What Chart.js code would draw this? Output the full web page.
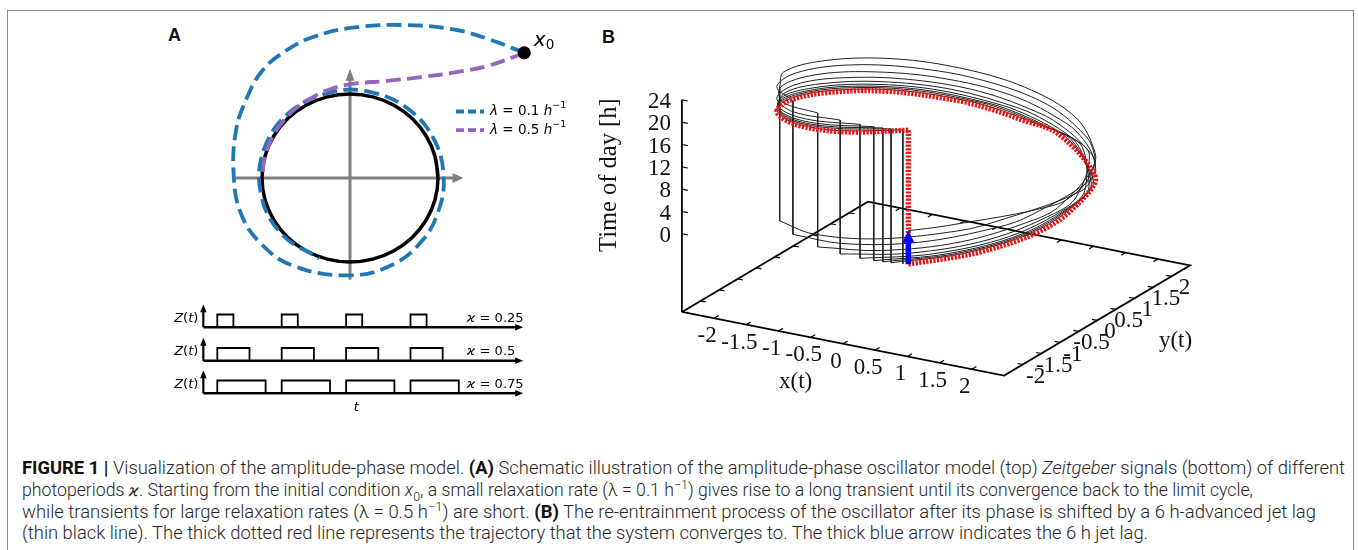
<!DOCTYPE html>
<html>
<head>
<meta charset="utf-8">
<title>Figure 1 – amplitude-phase model</title>
<script src="https://cdn.jsdelivr.net/npm/chart.js@4.4.1/dist/chart.umd.min.js"></script>
<style>
html, body { margin:0; padding:0; background:#ffffff; }
#page { position:relative; width:1358px; height:550px; overflow:hidden; background:#fff; }
#frame { position:absolute; left:7px; top:10px; width:1347px; height:620px; border:1.5px solid #8c8c8c; box-sizing:border-box; }
canvas { position:absolute; }
.panel { position:absolute; font-family:"Liberation Sans", Arial, sans-serif; font-weight:bold; font-size:18px; line-height:18px; color:#111; }
.cap { position:absolute; left:22px; white-space:nowrap; font-family:Roboto, "Liberation Sans", Arial, sans-serif; font-weight:300; font-size:17.5px; line-height:20px; color:#262626; transform-origin:0 50%; }
.cap b { color:#111; font-weight:700; }
.cap sub, .cap sup { font-size:70%; line-height:0; }
.cap .kap { font-family:"DejaVu Sans", sans-serif; font-weight:normal; font-size:15px; }
</style>
</head>
<body>
<div id="page">
  <div id="frame"></div>
  <div class="panel" style="left:168px; top:26px;">A</div>
  <div class="panel" style="left:602px; top:28px;">B</div>
  <canvas id="chartA"></canvas>
  <canvas id="chartZ0"></canvas>
  <canvas id="chartZ1"></canvas>
  <canvas id="chartZ2"></canvas>
  <canvas id="chartB"></canvas>
  <div class="cap" id="cap0" style="top:458px;"><b>FIGURE 1 |</b> Visualization of the amplitude-phase model. <b>(A)</b> Schematic illustration of the amplitude-phase oscillator model (top) <i>Zeitgeber</i> signals (bottom) of different</div>
  <div class="cap" id="cap1" style="top:479.5px;">photoperiods <i class="kap">ϰ</i>. Starting from the initial condition <i>x</i><sub>0</sub>, a small relaxation rate (λ = 0.1 h<sup>−1</sup>) gives rise to a long transient until its convergence back to the limit cycle,</div>
  <div class="cap" id="cap2" style="top:501.5px;">while transients for large relaxation rates (λ = 0.5 h<sup>−1</sup>) are short. <b>(B)</b> The re-entrainment process of the oscillator after its phase is shifted by a 6 h-advanced jet lag</div>
  <div class="cap" id="cap3" style="top:523px;">(thin black line). The thick dotted red line represents the trajectory that the system converges to. The thick blue arrow indicates the 6 h jet lag.</div>
</div>
<script>
// =====================================================================
// DATA
// =====================================================================
// ---- Panel A (top): limit cycle and two transients, polar form (deg, radius / limit-cycle amplitude)
const limitCycleAngle = [0,15,30,45,60,75,90,105,120,135,150,165,180,195,210,225,240,255,270,285,300,315,330,345,360,375];
const limitCycleRadius = 1;
const initialCondition = [1.98, 1.49];
const slowTransientAngle  = [36.9,46,56,71.5,89,104,116,128,141,157,180,199,217,238,270,295,317,338,360,385,410,435,460,490,520,550,580,610];
const slowTransientRadius = [2.48,2.29,2.13,1.92,1.79,1.73,1.68,1.62,1.51,1.41,1.32,1.31,1.28,1.23,1.16,1.14,1.11,1.08,1.065,1.06,1.055,1.05,1.045,1.04,1.035,1.03,1.025,1.02];
const fastTransientAngle  = [36.9,40.3,46.6,56,70,88.5,102,115,128,140,152,165,180];
const fastTransientRadius = [2.48,2.07,1.73,1.45,1.23,1.12,1.08,1.05,1.03,1.015,1.005,1.0,1.0];
const legendRates = ['0.1', '0.5'];

// ---- Panel A (bottom): Zeitgeber signals
const photoperiods = [0.25, 0.5, 0.75];
const cycleOnsets  = [0, 1, 2, 3];

// ---- Panel B: phase (deg) of the oscillator at each time of day, day by day after the jet lag
const todGrid        = [0,2,4,6,7,7.5,8,9,10,12,14,16,18,20,22,24];
const phaseEntrained = [-70,-43,-15,13,26,70,87,100,112,137,163,188,212,238,264,290];
const phaseDay0 = [null,null,null,-70,-56.2,-11.8,5.6,19.3,32.1,58.7,86.2,112.8,138.3,165.9,193.4,221];
const phaseDay1 = [-139,-110.8,-81.5,-52.3,-38.6,5.7,23,36.6,49.3,75.5,102.8,129,154.3,181.5,208.8,236];
const phaseDay2 = [-124,-95.7,-66.3,-37,-23.3,21,38.3,52,64.7,91,118.3,144.7,170,197.3,224.7,252];
const phaseDay3 = [-108,-80.1,-51.2,-22.3,-8.8,35.4,52.7,66.1,78.6,104.5,131.4,157.3,182.3,209.2,236.1,263];
const phaseDay4 = [-97,-69.3,-40.6,-11.9,1.5,45.7,62.8,76.2,88.5,114.3,141,166.7,191.4,218.1,244.8,271.5];
const phaseDay5 = [-88.5,-61,-32.6,-4.1,9.1,53.2,70.3,83.6,95.8,121.3,147.7,173.2,197.6,224.1,250.5,277];
const phaseDay6 = [-83,-55.7,-27.4,0.9,14,58.1,75.2,88.3,100.5,125.8,152,177.3,201.6,227.9,254.2,280.5];
const phaseDay7 = [-79.5,-52.2,-24,4.3,17.4,61.5,78.5,91.7,103.8,129.1,155.3,180.6,204.8,231.1,257.3,283.6];
const phaseDay8 = [-76.4,-49,-20.7,7.7,20.9,65,82.1,95.3,107.4,132.8,159.2,184.5,208.9,235.3,261.6,288];
const cycleAmplitude = 2.14;
const jetLagHours = 6;
const xTicks = [-2,-1.5,-1,-0.5,0,0.5,1,1.5,2];
const yTicks = [-2,-1.5,-1,-0.5,0,0.5,1,1.5,2];
const zTicks = [0,4,8,12,16,20,24];
const xyRange = [-2.5, 2.5];
const zRange  = [-14, 24];

// =====================================================================
// HELPERS
// =====================================================================
const DEG = Math.PI / 180;
const GAP = {x: NaN, y: NaN};

function placeCanvas(id, rect) {
  const cv = document.getElementById(id);
  cv.width = rect[2]; cv.height = rect[3];
  cv.style.left = rect[0] + 'px'; cv.style.top = rect[1] + 'px';
  cv.style.width = rect[2] + 'px'; cv.style.height = rect[3] + 'px';
  return cv;
}
function stacked(list) { const n = list.length; list.forEach((d, i) => { d.order = n - i; }); return list; }
function lineDs(data, color, width, extra) {
  return Object.assign({ data, showLine: true, borderColor: color, borderWidth: width, pointRadius: 0,
    pointHoverRadius: 0, tension: 0, fill: false, clip: false, spanGaps: false, borderCapStyle: 'butt' }, extra || {});
}
function buildChart(id, rect, origin, kx, ky, datasets, plugin) {
  const cv = placeCanvas(id, rect);
  return new Chart(cv.getContext('2d'), {
    type: 'scatter',
    data: { datasets },
    options: {
      responsive: false, maintainAspectRatio: false, animation: false, devicePixelRatio: 1, events: [],
      layout: { padding: 0, autoPadding: false },
      plugins: { legend: { display: false }, tooltip: { enabled: false }, title: { display: false } },
      scales: {
        x: { type: 'linear', display: false, bounds: 'data', min: (rect[0] - origin[0]) / kx, max: (rect[0] + rect[2] - origin[0]) / kx },
        y: { type: 'linear', display: false, bounds: 'data', min: (origin[1] - rect[1] - rect[3]) / ky, max: (origin[1] - rect[1]) / ky }
      }
    },
    plugins: plugin ? [plugin] : []
  });
}
function pix(chart, x, y) { return { x: chart.scales.x.getPixelForValue(x), y: chart.scales.y.getPixelForValue(y) }; }
function arrowHead(ctx, tip, dir, len, half, color) {
  const bx = tip.x - dir[0] * len, by = tip.y - dir[1] * len;
  ctx.save(); ctx.fillStyle = color; ctx.beginPath();
  ctx.moveTo(tip.x, tip.y);
  ctx.lineTo(bx - dir[1] * half, by + dir[0] * half);
  ctx.lineTo(bx + dir[1] * half, by - dir[0] * half);
  ctx.closePath(); ctx.fill(); ctx.restore();
}
function drawRich(ctx, parts, x, y, align) {
  let w = 0;
  parts.forEach(p => { ctx.font = p.f; w += ctx.measureText(p.t).width; });
  let cx = align === 'right' ? x - w : (align === 'center' ? x - w / 2 : x);
  ctx.save(); ctx.textBaseline = 'middle'; ctx.textAlign = 'left';
  parts.forEach(p => { ctx.font = p.f; ctx.fillStyle = p.c || '#000'; ctx.fillText(p.t, cx, y + (p.dy || 0)); cx += ctx.measureText(p.t).width; });
  ctx.restore();
}
function polar(angles, radii) {
  return angles.map((a, i) => { const r = Array.isArray(radii) ? radii[i] : radii; return { x: r * Math.cos(a * DEG), y: r * Math.sin(a * DEG) }; });
}
const MATH = '"DejaVu Sans"';

// =====================================================================
// PANEL A (top) – phase portrait
// =====================================================================
const rectA = [140, 5, 440, 290], originA = [350, 178], kxA = 88, kyA = 84;
const axisA = { left: -1.30, right: 1.29, bottom: -1.21, top: 1.30 };
const dsA = stacked([
  lineDs([{x: axisA.left, y: 0}, {x: axisA.right - 6 / kxA, y: 0}], '#808080', 3),
  lineDs([{x: 0, y: axisA.bottom}, {x: 0, y: axisA.top - 6 / kyA}], '#808080', 3),
  lineDs(polar(limitCycleAngle, limitCycleRadius), '#000000', 3.5, { tension: 0.4 }),
  lineDs(polar(slowTransientAngle, slowTransientRadius), '#1f77b4', 3.8, { tension: 0.4, borderDash: [14.8, 6.4] }),
  lineDs(polar(fastTransientAngle, fastTransientRadius), '#9467bd', 3.8, { tension: 0.4, borderDash: [14.8, 6.4] }),
  { data: [{x: initialCondition[0], y: initialCondition[1]}], showLine: false, pointRadius: 6.6, pointBackgroundColor: '#000',
    pointBorderColor: '#000', pointBorderWidth: 0, pointHoverRadius: 0, clip: false }
]);
const pluginA = {
  id: 'panelA',
  afterDatasetsDraw(chart) {
    const ctx = chart.ctx;
    arrowHead(ctx, pix(chart, axisA.right, 0), [1, 0], 11, 5, '#808080');
    arrowHead(ctx, pix(chart, 0, axisA.top), [0, -1], 12, 4.5, '#808080');
    // x0 label
    const p0 = pix(chart, initialCondition[0], initialCondition[1]);
    drawRich(ctx, [{t: 'x', f: 'italic 20px ' + MATH}], p0.x + 9.5, p0.y - 12, 'left');
    drawRich(ctx, [{t: '0', f: '13.5px ' + MATH}], p0.x + 21.5, p0.y - 7.5, 'left');
    // legend
    const colors = ['#1f77b4', '#9467bd'];
    legendRates.forEach((rate, i) => {
      const y = 111.5 + i * 18.6 - rectA[1];
      const x0 = 456 - rectA[0];
      ctx.save(); ctx.strokeStyle = colors[i]; ctx.lineWidth = 3.8; ctx.setLineDash([8, 4]); ctx.lineCap = 'butt';
      ctx.beginPath(); ctx.moveTo(x0, y); ctx.lineTo(x0 + 28, y); ctx.stroke(); ctx.restore();
      drawRich(ctx, [
        {t: 'λ', f: 'italic 13.5px ' + MATH},
        {t: ' = ' + rate + ' ', f: '13.5px ' + MATH},
        {t: 'h', f: 'italic 13.5px ' + MATH},
        {t: '−1', f: '9.5px ' + MATH, dy: -5.5}
      ], x0 + 34, y, 'left');
    });
  }
};
buildChart('chartA', rectA, originA, kxA, kyA, dsA, pluginA);

// =====================================================================
// PANEL A (bottom) – Zeitgeber signals
// =====================================================================
const zBaselines = [327.3, 360.8, 393.3];
const zAxis = { tStart: -0.217, tEnd: 4.75, top: 1.8 };
photoperiods.forEach((kappa, r) => {
  const base = zBaselines[r];
  const rect = [160, Math.round(base) - 30, 380, 56];
  const origin = [217.3, base], kx = 64.4, ky = 12.8;
  const pulses = [];
  cycleOnsets.forEach(s => { pulses.push({x: s, y: 0}, {x: s, y: 1}, {x: s + kappa, y: 1}, {x: s + kappa, y: 0}, GAP); });
  const ds = stacked([
    lineDs([{x: zAxis.tStart, y: 0}, {x: zAxis.tEnd - 5 / kx, y: 0}], '#000', 2.4),
    lineDs([{x: zAxis.tStart, y: 0}, {x: zAxis.tStart, y: zAxis.top - 5 / ky}], '#000', 2.2),
    lineDs(pulses, '#000', 1.8)
  ]);
  const plug = {
    id: 'zeit' + r,
    afterDatasetsDraw(chart) {
      const ctx = chart.ctx;
      arrowHead(ctx, pix(chart, zAxis.tEnd, 0), [1, 0], 8, 3.2, '#000');
      arrowHead(ctx, pix(chart, zAxis.tStart, zAxis.top), [0, -1], 8, 3.2, '#000');
      const pa = pix(chart, zAxis.tStart, 0);
      drawRich(ctx, [
        {t: 'Z', f: 'italic 13px ' + MATH}, {t: '(', f: '13px ' + MATH},
        {t: 't', f: 'italic 13px ' + MATH}, {t: ')', f: '13px ' + MATH}
      ], pa.x - 5, pa.y - 9, 'right');
      drawRich(ctx, [
        {t: 'ϰ', f: 'italic 13px ' + MATH}, {t: ' = ' + kappa, f: '13px ' + MATH}
      ], pa.x + 263.5, pa.y - 9, 'left');
      if (r === photoperiods.length - 1) {
        drawRich(ctx, [{t: 't', f: 'italic 13px ' + MATH}], pix(chart, 2.16, 0).x, pa.y + 14.5, 'center');
      }
    }
  };
  buildChart('chartZ' + r, rect, origin, kx, ky, ds, plug);
});

// =====================================================================
// PANEL B – re-entrainment in (x, y, time of day) space
// =====================================================================
const VIEW = { rotX: 70, rotZ: 30, unit: 74.4, hour: 5.58 };
function project(x, y, z) {
  const rz = VIEW.rotZ * DEG, rx = VIEW.rotX * DEG;
  return { x: VIEW.unit * (x * Math.cos(rz) + y * Math.sin(rz)),
           y: VIEW.unit * Math.cos(rx) * (-x * Math.sin(rz) + y * Math.cos(rz)) + VIEW.hour * z };
}
function onCycle(phase, tod) { return project(cycleAmplitude * Math.cos(phase * DEG), cycleAmplitude * Math.sin(phase * DEG), tod); }
function ringPoints(phases) { const pts = []; phases.forEach((p, i) => { if (p !== null) pts.push(onCycle(p, todGrid[i])); }); return pts; }

const rectB = [580, 20, 660, 400], originB = [936, 210.5];
const [lo, hi] = xyRange, zf = zRange[0];
const floor = [[lo, lo], [hi, lo], [hi, hi], [lo, hi], [lo, lo]].map(c => project(c[0], c[1], zf));
const zAxisLine = [project(lo, lo, zf), project(lo, lo, zRange[1])];
const ticks = [];
xTicks.forEach(v => { ticks.push(project(v, lo, zf), project(v, lo + 0.12, zf), GAP, project(v, hi, zf), project(v, hi - 0.12, zf), GAP); });
yTicks.forEach(v => { ticks.push(project(hi, v, zf), project(hi - 0.08, v, zf), GAP, project(lo, v, zf), project(lo + 0.08, v, zf), GAP); });
zTicks.forEach(v => { ticks.push(project(lo, lo, v), project(lo + 0.09, lo, v), GAP); });

const days = [phaseDay0, phaseDay1, phaseDay2, phaseDay3, phaseDay4, phaseDay5, phaseDay6, phaseDay7, phaseDay8];
const dayDs = days.map(ph => lineDs(ringPoints(ph), '#202020', 1, { tension: 0.35 }));
const wraps = [];
days.forEach(ph => { const last = ph[ph.length - 1]; wraps.push(onCycle(last, todGrid[todGrid.length - 1]), onCycle(last, todGrid[0]), GAP); });
const redRing = ringPoints(phaseEntrained);
const redWrap = [onCycle(phaseEntrained[phaseEntrained.length - 1], todGrid[todGrid.length - 1]), onCycle(phaseEntrained[0], todGrid[0])];
const arrowHeadLen = 12;
const arrowShaft = [onCycle(phaseEntrained[0], 0), onCycle(phaseEntrained[0], jetLagHours - (arrowHeadLen - 2) / VIEW.hour)];

const redStyle = { borderDash: [2.2, 1.4] };
const dsB = stacked([
  lineDs(floor, '#000', 1.8),
  lineDs(zAxisLine, '#000', 1.8),
  lineDs(ticks, '#000', 1.2),
  ...dayDs,
  lineDs(wraps, '#202020', 1),
  lineDs(redRing, '#ee1111', 5.2, Object.assign({ tension: 0.35 }, redStyle)),
  lineDs(redWrap, '#ee1111', 5.2, redStyle),
  lineDs(arrowShaft, '#0000ff', 5.5)
]);
const SERIF = '"Liberation Serif", "Times New Roman", serif';
const pluginB = {
  id: 'panelB',
  afterDatasetsDraw(chart) {
    const ctx = chart.ctx;
    const P = p => pix(chart, p.x, p.y);
    // blue arrow head
    const tip = P(onCycle(phaseEntrained[0], jetLagHours));
    arrowHead(ctx, tip, [0, -1], arrowHeadLen, 6.2, '#0000ff');
    ctx.save();
    ctx.fillStyle = '#111';
    ctx.font = '23px ' + SERIF;
    ctx.textBaseline = 'middle';
    // z tick labels
    ctx.textAlign = 'right';
    zTicks.forEach(v => { const p = P(project(lo, lo, v)); ctx.fillText(String(v), p.x - 11, p.y + 2); });
    // x tick labels
    ctx.textAlign = 'center';
    xTicks.forEach(v => { const p = P(project(v, lo, zf)); ctx.fillText(String(v), p.x - 7, p.y + 18); });
    // y tick labels
    yTicks.forEach(v => { const p = P(project(hi, v, zf)); ctx.fillText(String(v), p.x + 13, p.y + 12); });
    // axis titles
    const px = P(project(-0.75, lo, zf));
    ctx.fillText('x(t)', px.x + 1, px.y + 48);
    const py = P(project(hi, 0.9, zf));
    ctx.fillText('y(t)', py.x + 45, py.y + 40);
    const pz = P(project(lo, lo, 10.5));
    ctx.translate(pz.x - 72, pz.y);
    ctx.rotate(-Math.PI / 2);
    ctx.font = '24.5px ' + SERIF;
    ctx.fillText('Time of day [h]', 0, 0);
    ctx.restore();
  }
};
buildChart('chartB', rectB, originB, 1, 1, dsB, pluginB);

// =====================================================================
// Caption: fit each typeset line to its measured width
// =====================================================================
const capWidths = [1323, 1231, 1294, 1126];
capWidths.forEach((w, i) => {
  const el = document.getElementById('cap' + i);
  const natural = el.getBoundingClientRect().width;
  el.style.transform = 'scaleX(' + (w / natural) + ')';
});
</script>
</body>
</html>
